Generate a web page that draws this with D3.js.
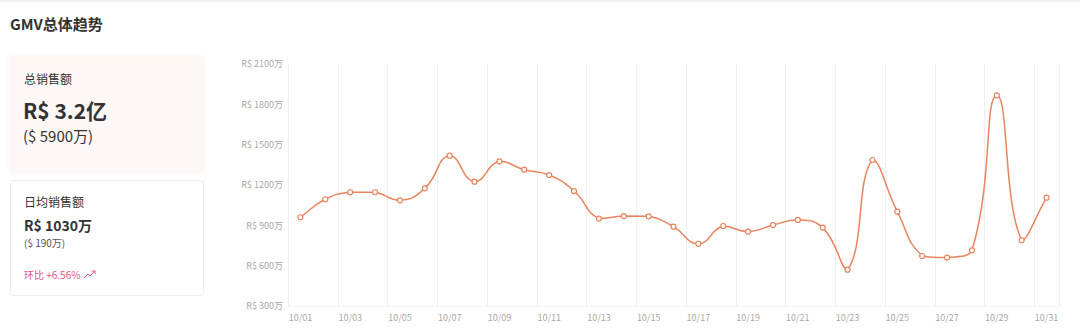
<!DOCTYPE html>
<html>
<head>
<meta charset="utf-8">
<script src="https://cdn.jsdelivr.net/npm/d3@7"></script>
<style>
  html, body { margin: 0; padding: 0; background: #fff; }
  svg { display: block; font-family: "Noto Sans CJK SC", "Noto Sans", sans-serif; }
</style>
</head>
<body>
<svg id="chart" width="1080" height="332"></svg>
<script>
'use strict';

// Data (万 R$)
var days = ['10/01','10/02','10/03','10/04','10/05','10/06','10/07','10/08','10/09','10/10',
  '10/11','10/12','10/13','10/14','10/15','10/16','10/17','10/18','10/19','10/20',
  '10/21','10/22','10/23','10/24','10/25','10/26','10/27','10/28','10/29','10/30','10/31'];
var gmv = [960, 1094, 1146, 1146, 1086, 1175, 1418, 1225, 1376, 1314,
  1274, 1155, 950, 969, 967, 890, 763, 895, 853, 902,
  940, 883, 570, 1386, 1002, 672, 660, 714, 1867, 789, 1106];
var yTicks = [300, 600, 900, 1200, 1500, 1800, 2100];

var svg = d3.select('#chart');

/**
 * Smooth curve close to the one ECharts draws (smooth 0.5, clamped control points)
 */
function smoothCurve(context) {
  var pts = [];
  function clamp(v, a, b) { return Math.max(Math.min(v, Math.max(a, b)), Math.min(a, b)); }
  return {
    areaStart: function() {},
    areaEnd: function() {},
    lineStart: function() { pts = []; },
    point: function(x, y) { pts.push([+x, +y]); },
    lineEnd: function() {
      var s = 0.5, n = pts.length, cp0 = null;
      pts.forEach(function(p, i) {
        var prev = pts[i - 1] || p, next = pts[i + 1] || p;
        var vx = next[0] - prev[0], vy = next[1] - prev[1];
        var l0 = Math.hypot(p[0] - prev[0], p[1] - prev[1]);
        var l1 = Math.hypot(next[0] - p[0], next[1] - p[1]);
        var r = (l0 + l1) ? l1 / (l0 + l1) : 0.5;
        var inX = clamp(p[0] - vx * s * (1 - r), prev[0], p[0]);
        var inY = clamp(p[1] - vy * s * (1 - r), prev[1], p[1]);
        if (i === 0) {
          context.moveTo(p[0], p[1]);
        } else {
          context.bezierCurveTo(cp0[0], cp0[1], inX, inY, p[0], p[1]);
        }
        cp0 = [clamp(p[0] + vx * s * r, p[0], next[0]), clamp(p[1] + vy * s * r, p[1], next[1])];
      });
      if (n === 1) { context.closePath(); }
    }
  };
}

// Top strip and title
svg.append('rect').attr('x', 0).attr('y', 0).attr('width', 1080).attr('height', 2).attr('fill', '#f0f0f0');
svg.append('text').attr('x', 10).attr('y', 30)
  .attr('font-size', 15).attr('font-weight', 'bold').attr('fill', '#333')
  .text('GMV总体趋势');

// Cards
var defs = svg.append('defs');
var blur = defs.append('filter').attr('id', 'soft').attr('x', '-10%').attr('y', '-10%').attr('width', '120%').attr('height', '120%');
blur.append('feGaussianBlur').attr('stdDeviation', 2);

svg.append('rect').attr('x', 9).attr('y', 56).attr('width', 195).attr('height', 117).attr('rx', 4)
  .attr('fill', '#fbf4ef').attr('filter', 'url(#soft)');
svg.append('rect').attr('x', 11).attr('y', 58).attr('width', 191).attr('height', 113).attr('rx', 3)
  .attr('fill', '#fdf8f5');

svg.append('rect').attr('x', 10.5).attr('y', 180.5).attr('width', 193).attr('height', 115).attr('rx', 3)
  .attr('fill', '#fff').attr('stroke', '#eeeeee');

var cardText = [
  { x: 24, y: 84, size: 12, weight: 'normal', color: '#333', text: '总销售额' },
  { x: 23, y: 119, size: 21, weight: 'bold', color: '#333', text: 'R$ 3.2亿' },
  { x: 23, y: 142, size: 15, weight: 'normal', color: '#333', text: '($ 5900万)' },
  { x: 24, y: 207, size: 12, weight: 'normal', color: '#333', text: '日均销售额' },
  { x: 24, y: 231, size: 14, weight: 'bold', color: '#333', text: 'R$ 1030万' },
  { x: 24, y: 247, size: 10, weight: 'normal', color: '#555', text: '($ 190万)' },
  { x: 24, y: 279, size: 10, weight: 'normal', color: '#e2568a', text: '环比 +6.56%' }
];
svg.selectAll('.card-text').data(cardText).enter().append('text')
  .attr('class', 'card-text')
  .attr('x', function(d) { return d.x; })
  .attr('y', function(d) { return d.y; })
  .attr('font-size', function(d) { return d.size; })
  .attr('font-weight', function(d) { return d.weight; })
  .attr('fill', function(d) { return d.color; })
  .text(function(d) { return d.text; });

// Trend icon
svg.append('path')
  .attr('d', 'M84,278 L88,274 L90,276 L95,271 M92,271 L95,271 L95,274')
  .attr('fill', 'none').attr('stroke', '#e2568a').attr('stroke-width', 1)
  .attr('stroke-linecap', 'round').attr('stroke-linejoin', 'round');

// Chart area
var plot = { left: 288, right: 1059, top: 64, bottom: 306 };

var x = d3.scaleBand().domain(days).range([plot.left, plot.right]);
var y = d3.scaleLinear().domain([300, 2100]).range([plot.bottom, plot.top]);

function cx(d) { return x(d) + x.bandwidth() / 2; }

// Vertical split lines every two days, plus right edge
var splitIdx = d3.range(0, days.length, 2);
svg.append('g').selectAll('line').data(splitIdx).enter().append('line')
  .attr('x1', function(i) { return Math.round(x(days[i])) + 0.5; })
  .attr('x2', function(i) { return Math.round(x(days[i])) + 0.5; })
  .attr('y1', plot.top).attr('y2', plot.bottom)
  .attr('stroke', '#efefef');
svg.append('line')
  .attr('x1', plot.right + 0.5).attr('x2', plot.right + 0.5)
  .attr('y1', plot.top).attr('y2', plot.bottom)
  .attr('stroke', '#efefef');
svg.append('line')
  .attr('x1', plot.left).attr('x2', plot.right)
  .attr('y1', plot.bottom + 0.5).attr('y2', plot.bottom + 0.5)
  .attr('stroke', '#f3f3f3');

// Y axis
var yAxis = svg.append('g')
  .attr('transform', 'translate(' + (plot.left - 5) + ',0)')
  .call(d3.axisLeft(y).tickValues(yTicks).tickSize(0).tickPadding(0)
    .tickFormat(function(d) { return 'R$ ' + d + '万'; }));
yAxis.select('.domain').remove();
yAxis.selectAll('text').attr('font-size', 9).attr('fill', '#a8a8a8')
  .attr('font-family', '"Noto Sans CJK SC", sans-serif');

// X axis
var xAxis = svg.append('g')
  .attr('transform', 'translate(0,' + plot.bottom + ')')
  .call(d3.axisBottom(x).tickValues(days.filter(function(d, i) { return i % 2 === 0; }))
    .tickSize(0).tickPadding(9));
xAxis.select('.domain').remove();
xAxis.selectAll('text').attr('font-size', 9).attr('fill', '#a8a8a8')
  .attr('font-family', '"Noto Sans CJK SC", sans-serif');

// Line
var series = days.map(function(d, i) { return { day: d, value: gmv[i] }; });
var line = d3.line()
  .x(function(d) { return cx(d.day); })
  .y(function(d) { return y(d.value); })
  .curve(smoothCurve);

svg.append('path').datum(series)
  .attr('d', line)
  .attr('fill', 'none')
  .attr('stroke', '#e9845f')
  .attr('stroke-width', 1.5);

svg.append('g').selectAll('circle').data(series).enter().append('circle')
  .attr('cx', function(d) { return cx(d.day); })
  .attr('cy', function(d) { return y(d.value); })
  .attr('r', 2.5)
  .attr('fill', '#fff')
  .attr('stroke', '#e9845f')
  .attr('stroke-width', 1.2);
</script>
</body>
</html>
